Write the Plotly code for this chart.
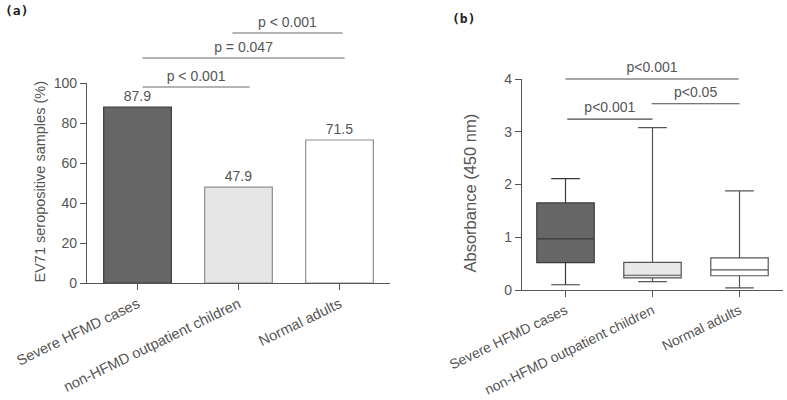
import plotly.graph_objects as go

# ---------------- data ----------------
categories = ["Severe HFMD cases", "non-HFMD outpatient children", "Normal adults"]

# panel (a): seropositive rate (%)
sero_pct = [87.9, 47.9, 71.5]
bar_fill = ["#666666", "#e6e6e6", "#ffffff"]
bar_edge = ["#3c3c3c", "#8f8f8f", "#8f8f8f"]

# panel (b): absorbance box statistics
box_q1 = [0.52, 0.23, 0.27]
box_median = [0.97, 0.28, 0.38]
box_q3 = [1.65, 0.525, 0.61]
box_min = [0.10, 0.16, 0.04]
box_max = [2.11, 3.08, 1.88]
box_fill = ["#666666", "#e8e8e8", "#ffffff"]
box_edge = ["#3a3a3a", "#555555", "#555555"]

# significance brackets: (x_start, x_end, y, label)
sig_a = [(0.05, 1.11, 98, "p < 0.001"),
         (0.05, 2.05, 112.5, "p = 0.047"),
         (0.94, 2.03, 125, "p < 0.001")]
sig_a_label_dy = 5
sig_b = [(0.0, 1.99, 4.0, "p<0.001"),
         (0.99, 2.0, 3.53, "p<0.05"),
         (0.02, 1.0, 3.24, "p<0.001")]
sig_b_label_dy = 0.2

TXT = "#555555"
FONT = "Liberation Sans, Arial, sans-serif"

fig = go.Figure()

# ---- panel (a) bars ----
fig.add_trace(go.Bar(
    x=categories, y=sero_pct, width=0.67,
    marker=dict(color=bar_fill, line=dict(color=bar_edge, width=1.2)),
    text=[f"{v:.1f}" for v in sero_pct], textposition="outside",
    textfont=dict(size=14, color=TXT, family=FONT), cliponaxis=False,
    xaxis="x", yaxis="y", showlegend=False, hoverinfo="skip"))

# ---- panel (b) boxes ----
for i, c in enumerate(categories):
    fig.add_trace(go.Box(
        x=[c], q1=[box_q1[i]], median=[box_median[i]], q3=[box_q3[i]],
        lowerfence=[box_min[i]], upperfence=[box_max[i]],
        width=0.66, whiskerwidth=0.5, fillcolor=box_fill[i],
        line=dict(color=box_edge[i], width=1.2),
        xaxis="x2", yaxis="y2", showlegend=False, boxpoints=False,
        hoverinfo="skip"))

# ---- brackets (overlay subplots) ----
for (x0, x1, yv, lab) in sig_a:
    fig.add_trace(go.Scatter(x=[x0, x1], y=[yv, yv], mode="lines",
                             line=dict(color="#6a6a6a", width=1.1),
                             xaxis="x3", yaxis="y3", showlegend=False, hoverinfo="skip"))
    fig.add_trace(go.Scatter(x=[(x0 + x1) / 2], y=[yv + sig_a_label_dy], mode="text",
                             text=[lab], textfont=dict(size=14, color=TXT, family=FONT),
                             cliponaxis=False,
                             xaxis="x3", yaxis="y3", showlegend=False, hoverinfo="skip"))
for (x0, x1, yv, lab) in sig_b:
    fig.add_trace(go.Scatter(x=[x0, x1], y=[yv, yv], mode="lines",
                             line=dict(color="#4a4a4a", width=1.1),
                             xaxis="x4", yaxis="y4", showlegend=False, hoverinfo="skip"))
    fig.add_trace(go.Scatter(x=[(x0 + x1) / 2], y=[yv + sig_b_label_dy], mode="text",
                             text=[lab], textfont=dict(size=14, color=TXT, family=FONT),
                             cliponaxis=False,
                             xaxis="x4", yaxis="y4", showlegend=False, hoverinfo="skip"))

W, H = 787, 400
xa_dom = [87 / W, 390 / W]
xb_dom = [522 / W, 783 / W]
ya_dom = [(H - 283) / H, (H - 83) / H]
yb_dom = [(H - 290) / H, (H - 79) / H]

axis_common = dict(showline=True, linecolor="#555555", linewidth=1.2,
                   ticks="outside", ticklen=6, tickcolor="#555555", tickwidth=1.2,
                   showgrid=False, zeroline=False, automargin=False,
                   tickfont=dict(size=14, color=TXT, family=FONT))
xcat_font_a = dict(size=14.6, color=TXT, family=FONT)
xcat_font_b = dict(size=14, color=TXT, family=FONT)

hidden = dict(visible=False, showgrid=False, zeroline=False, automargin=False)

fig.update_layout(
    width=W, height=H, margin=dict(l=0, r=0, t=0, b=0, autoexpand=False),
    paper_bgcolor="white", plot_bgcolor="rgba(0,0,0,0)",
    font=dict(family=FONT, color=TXT),
    xaxis=dict(domain=xa_dom, anchor="y", range=[-0.5, 2.5], tickangle=-26,
               categoryorder="array", categoryarray=categories, **axis_common),
    yaxis=dict(domain=ya_dom, anchor="x", range=[0, 100], tickvals=[0, 20, 40, 60, 80, 100],
               **axis_common),
    xaxis2=dict(domain=xb_dom, anchor="y2", range=[-0.5, 2.5], tickangle=-26,
                categoryorder="array", categoryarray=categories, **axis_common),
    yaxis2=dict(domain=yb_dom, anchor="x2", range=[0, 4], tickvals=[0, 1, 2, 3, 4],
                **axis_common),
    xaxis3=dict(domain=xa_dom, anchor="y3", range=[-0.5, 2.5], **hidden),
    yaxis3=dict(domain=[ya_dom[0], 1.0], anchor="x3", range=[0, 283 / 2], **hidden),
    xaxis4=dict(domain=xb_dom, anchor="y4", range=[-0.5, 2.5], **hidden),
    yaxis4=dict(domain=[yb_dom[0], 1.0], anchor="x4", range=[0, 290 / 52.75], **hidden),
    annotations=[
        dict(text="EV71 seropositive samples (%)", textangle=-90, x=29 / W, y=(H - 182.5) / H,
             xref="paper", yref="paper", showarrow=False,
             font=dict(size=14.5, color=TXT, family=FONT)),
        dict(text="Absorbance (450 nm)", textangle=-90, x=470 / W, y=(H - 192.5) / H,
             xref="paper", yref="paper", showarrow=False,
             font=dict(size=16.5, color=TXT, family=FONT)),
        dict(text="<b>(a)</b>", x=3 / W, y=(H - 10) / H, xref="paper", yref="paper",
             xanchor="left", yanchor="middle", showarrow=False,
             font=dict(size=13, color="#222222", family="DejaVu Sans Mono")),
        dict(text="<b>(b)</b>", x=450 / W, y=(H - 18) / H, xref="paper", yref="paper",
             xanchor="left", yanchor="middle", showarrow=False,
             font=dict(size=13, color="#222222", family="DejaVu Sans Mono")),
    ],
)
fig.update_xaxes(tickfont=xcat_font_a, selector=dict(anchor="y"))
fig.update_xaxes(tickfont=xcat_font_b, selector=dict(anchor="y2"))

fig.write_html("out.html", config={"displayModeBar": False},
               post_script="document.body.style.margin='0';")
